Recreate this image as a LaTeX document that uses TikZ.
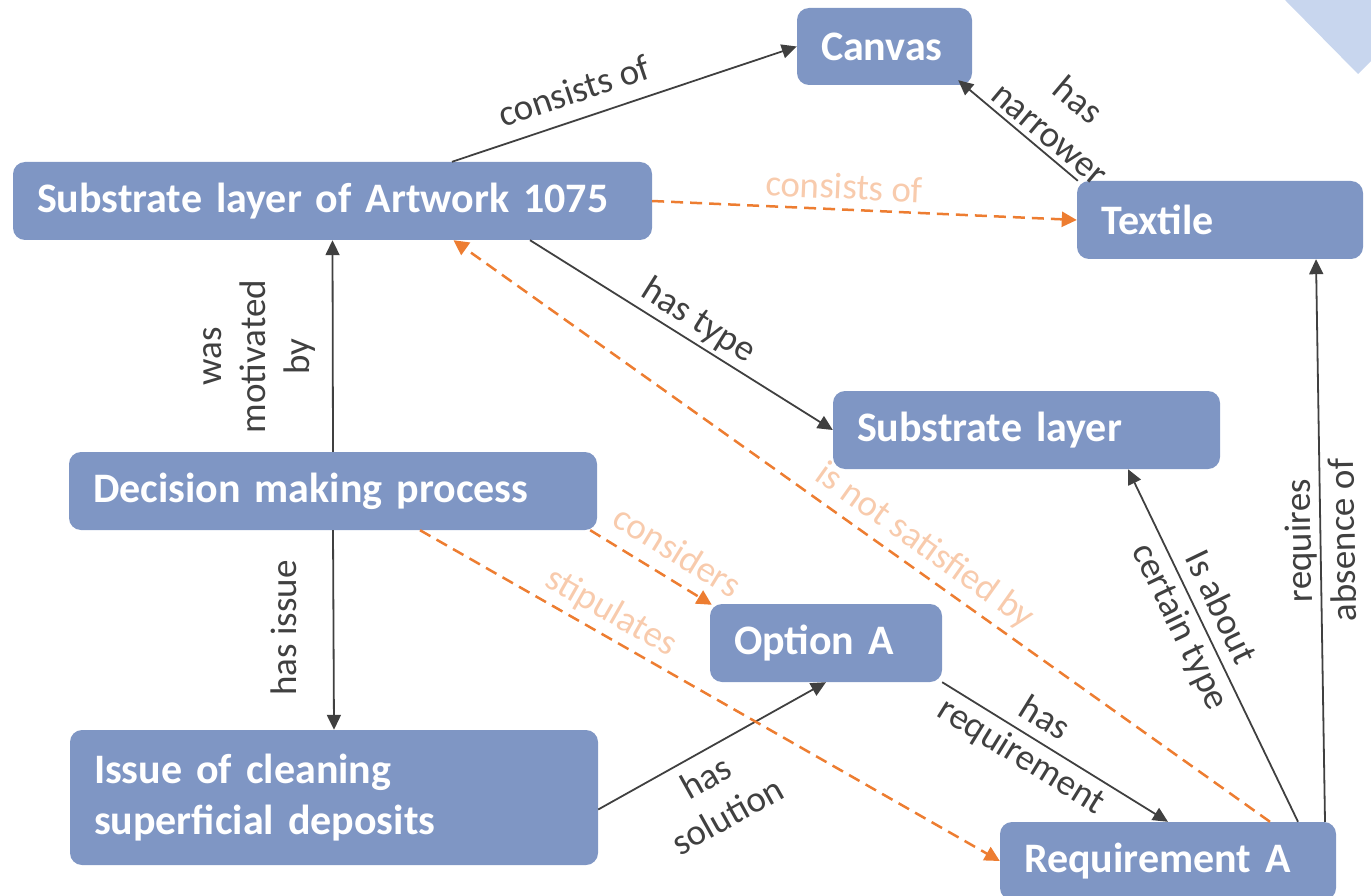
\documentclass[tikz,border=0pt]{standalone}
\usepackage{fontspec}
\setmainfont{Carlito}
\newfontfamily\boxfont{Carlito}[WordSpace=0.6]
\usetikzlibrary{arrows.meta}
\definecolor{boxblue}{RGB}{127,150,196}
\definecolor{cornerblue}{RGB}{200,214,238}
\definecolor{linegray}{RGB}{64,64,64}
\definecolor{dashorange}{RGB}{237,125,49}
\definecolor{paleorange}{RGB}{248,203,173}
\tikzset{
  box/.style 2 args={fill=boxblue, rounded corners=12pt, text=white,
    font=\boxfont\fontsize{42}{51}\selectfont\bfseries, align=left,
    inner xsep=24pt, inner ysep=0pt, text width=#1-48pt, minimum height=#2},
  arr/.style={draw=linegray, line width=1.8pt,
    -{Triangle[length=15pt,width=14pt]}},
  darr/.style={draw=dashorange, line width=2.5pt, dash pattern=on 12pt off 7pt,
    -{Triangle[length=15pt,width=15pt]}},
  lbl/.style={font=\fontsize{37}{44}\selectfont, text=linegray, align=center, inner sep=2pt},
  olbl/.style={lbl, text=paleorange}
}
\begin{document}
\begin{tikzpicture}[x=1pt,y=-1pt]
\useasboundingbox (0,0) rectangle (1371,896);

% corner decoration
\fill[cornerblue] (1285,0) -- (1358,74) -- (1371,61) -- (1371,0) -- cycle;

% concept boxes
\node[box={175pt}{77pt}] (canvas) at (884.5,46.5) {Canvas};
\node[box={639pt}{78pt}] (art) at (332.5,201) {Substrate layer of Artwork 1075};
\node[box={286pt}{78pt}] (textile) at (1220,220) {Textile};
\node[box={387pt}{78pt}] (sublayer) at (1026.5,430) {Substrate layer};
\node[box={528pt}{78pt}] (dec) at (333,491) {Decision making process};
\node[box={232pt}{78pt}] (opt) at (826,643) {Option A};
\node[box={528pt}{135pt}] (issue) at (334,797.5) {Issue of cleaning\\superficial deposits};
\node[box={336pt}{78pt}] (req) at (1168,861) {Requirement A};

% solid relations
\draw[arr] ([xshift=119.5pt]art.north) -- node[lbl,sloped,above=13pt,pos=0.38]{consists of} (canvas.west);
\draw[arr] ([xshift=1pt]textile.north west) -- node[lbl,sloped,above=3pt,pos=0.33]{has\\narrower} ([xshift=-14pt,yshift=5pt]canvas.south east);
\draw[arr] ([xshift=197.5pt]art.south) -- node[lbl,sloped,above=2pt,pos=0.52]{has type} (sublayer.west);
\draw[arr] (dec.north) -- node[lbl,rotate=90,above=14pt,pos=0.45]{was\\motivated\\by} (art.south);
\draw[arr] (dec.south) -- node[lbl,rotate=90,above=34pt,pos=0.49]{has issue} (issue.north);
\draw[arr] ([yshift=-12pt]issue.east) -- node[lbl,sloped,below=8pt,pos=0.42]{has\\solution} (opt.south);
\draw[arr] (opt.south east) -- node[lbl,sloped,pos=0.40]{has\\requirement} (req.north);
\draw[arr] ([xshift=130pt]req.north) -- node[lbl,sloped,pos=0.58]{Is about\\certain type} ([xshift=101.5pt]sublayer.south);
\draw[arr] ([xshift=157pt]req.north) -- node[lbl,rotate=91,pos=0.5]{requires\\absence of} ([xshift=96pt]textile.south);

% dashed relations
\draw[darr] (art.east) -- node[olbl,sloped,above=7pt,pos=0.45]{consists of} (textile.west);
\draw[darr] ([xshift=-7pt]dec.south east) -- node[olbl,sloped,above=12pt,pos=0.6]{considers} ([xshift=2pt,yshift=-1pt]opt.north west);
\draw[darr] ([xshift=87pt]dec.south) -- node[olbl,sloped,above=4pt,pos=0.31]{stipulates} (req.west);
\draw[darr] ([xshift=102pt]req.north) -- node[olbl,sloped,above=5pt,pos=0.44]{is not satisfied by} ([xshift=121pt]art.south);
\end{tikzpicture}
\end{document}
